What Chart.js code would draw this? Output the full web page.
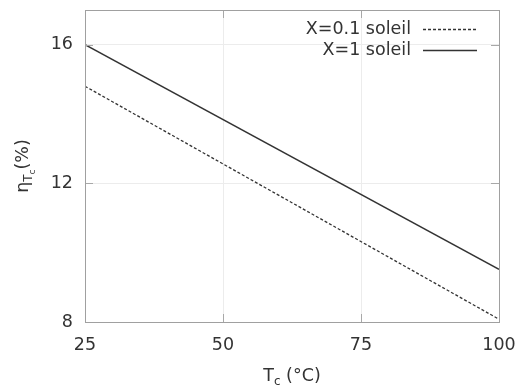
<!DOCTYPE html>
<html>
<head>
<meta charset="utf-8">
<script src="https://cdn.jsdelivr.net/npm/chart.js@4"></script>
<style>
  html, body { margin: 0; padding: 0; background: #fff; }
  #wrap { width: 519px; height: 387px; }
</style>
</head>
<body>
<div id="wrap"><canvas id="chart"></canvas></div>
<script>
// donnees
const tempC = [25, 100];
const etaSoleil01 = [14.8, 8.08];
const etaSoleil1 = [16.0, 9.52];
const seriesLabels = ['X=0.1 soleil', 'X=1 soleil'];
const xTicks = [25, 50, 75, 100];
const yTicks = [8, 12, 16];

const FONT = 'DejaVu Sans';
const TXT = '#333';

function toPoints(xs, ys) {
    return xs.map((x, i) => ({ x: x, y: ys[i] }));
}

// cadre, petites graduations internes, legende et titres d'axes
const decor = {
    id: 'decor',
    afterDraw(chart) {
        const ctx = chart.ctx;
        const a = chart.chartArea;
        const xs = chart.scales.x, ys = chart.scales.y;
        ctx.save();
        ctx.strokeStyle = '#a8a8a8';
        ctx.lineWidth = 1;
        const t = 8;
        ctx.beginPath();
        xTicks.forEach(v => {
            const px = Math.round(xs.getPixelForValue(v)) + 0.5;
            ctx.moveTo(px, a.bottom); ctx.lineTo(px, a.bottom - t);
            ctx.moveTo(px, a.top); ctx.lineTo(px, a.top + t);
        });
        yTicks.forEach(v => {
            const py = Math.round(ys.getPixelForValue(v)) + 0.5;
            ctx.moveTo(a.left, py); ctx.lineTo(a.left + t, py);
            ctx.moveTo(a.right, py); ctx.lineTo(a.right - t, py);
        });
        ctx.stroke();
        ctx.strokeStyle = '#a0a0a0';
        ctx.strokeRect(Math.round(a.left) + 0.5, Math.round(a.top) + 0.5,
            Math.round(a.right - a.left), Math.round(a.bottom - a.top));

        // legende en haut a droite
        ctx.font = '17.5px "' + FONT + '"';
        ctx.fillStyle = TXT;
        ctx.textAlign = 'right';
        ctx.textBaseline = 'middle';
        chart.data.datasets.forEach((ds, i) => {
            const y = 29 + i * 21;
            ctx.fillText(ds.label, 411, y);
            ctx.strokeStyle = ds.borderColor;
            ctx.lineWidth = ds.borderWidth;
            ctx.setLineDash(ds.borderDash || []);
            ctx.beginPath();
            ctx.moveTo(423, y + 0.5); ctx.lineTo(477, y + 0.5);
            ctx.stroke();
            ctx.setLineDash([]);
        });

        // titre axe x : T_c (°C)
        ctx.textAlign = 'left';
        ctx.textBaseline = 'alphabetic';
        const cx = (a.left + a.right) / 2;
        const big = '17.5px "' + FONT + '"', small = '12px "' + FONT + '"';
        ctx.font = big; const wT = ctx.measureText('T').width;
        const wRest = ctx.measureText(' (°C)').width;
        ctx.font = small; const wc = ctx.measureText('c').width;
        let x0 = cx - (wT + wc + wRest) / 2;
        const by = 381;
        ctx.font = big; ctx.fillText('T', x0, by);
        ctx.font = small; ctx.fillText('c', x0 + wT, by + 4);
        ctx.font = big; ctx.fillText(' (°C)', x0 + wT + wc, by);

        // titre axe y : eta_{T_c}(%)
        ctx.translate(28, (a.top + a.bottom) / 2);
        ctx.rotate(-Math.PI / 2);
        const tiny = '9px "' + FONT + '"';
        ctx.font = big; const we = ctx.measureText('η').width, wp = ctx.measureText('(%)').width;
        ctx.font = small; const wT2 = ctx.measureText('T').width;
        ctx.font = tiny; const wc2 = ctx.measureText('c').width;
        let s = -(we + wT2 + wc2 + wp) / 2;
        ctx.font = big; ctx.fillText('η', s, 0); s += we;
        ctx.font = small; ctx.fillText('T', s, 4); s += wT2;
        ctx.font = tiny; ctx.fillText('c', s, 7); s += wc2;
        ctx.font = big; ctx.fillText('(%)', s, 0);
        ctx.restore();
    }
};

new Chart(document.getElementById('chart'), {
    type: 'line',
    data: {
        datasets: [{
            label: seriesLabels[0],
            data: toPoints(tempC, etaSoleil01),
            borderColor: '#333',
            borderWidth: 1.3,
            borderDash: [3, 2],
            pointRadius: 0,
            fill: false
        }, {
            label: seriesLabels[1],
            data: toPoints(tempC, etaSoleil1),
            borderColor: '#333',
            borderWidth: 1.5,
            pointRadius: 0,
            fill: false
        }]
    },
    options: {
        responsive: true,
        maintainAspectRatio: false,
        animation: false,
        layout: { padding: { top: 10, right: 20, left: 0, bottom: 0 } },
        plugins: { legend: { display: false }, tooltip: { enabled: false } },
        scales: {
            x: {
                type: 'linear',
                min: 25, max: 100,
                afterBuildTicks: sc => { sc.ticks = xTicks.map(v => ({ value: v })); },
                afterFit: sc => { sc.height = 65; sc.paddingLeft = 0; sc.paddingRight = 0; },
                grid: { color: '#ececec', drawTicks: false },
                border: { display: false },
                ticks: { padding: 13, color: TXT, font: { family: FONT, size: 17.5 } }
            },
            y: {
                min: 8, max: 17,
                afterBuildTicks: sc => { sc.ticks = yTicks.map(v => ({ value: v })); },
                afterFit: sc => { sc.width = 85; sc.paddingTop = 0; sc.paddingBottom = 0; },
                grid: { color: '#ececec', drawTicks: false },
                border: { display: false },
                ticks: { padding: 12, color: TXT, font: { family: FONT, size: 17.5 } }
            }
        }
    },
    plugins: [decor]
});
</script>
</body>
</html>
